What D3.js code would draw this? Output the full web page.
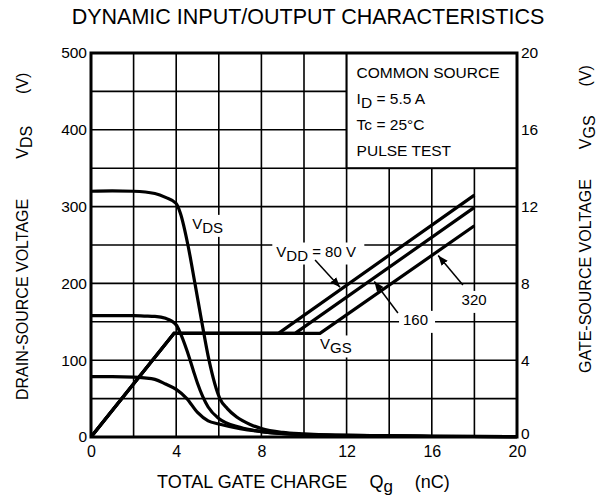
<!DOCTYPE html>
<html>
<head>
<meta charset="utf-8">
<script src="https://cdn.jsdelivr.net/npm/d3@7"></script>
<style>
    body { margin: 0; background: #fff; }
    text { font-family: "Liberation Sans", Arial, sans-serif; fill: #000; }
    .myaxis path, .myaxis line { display: none; }
    .myaxis text { font-size: 15.5px; }
</style>
</head>
<body>
<div id="gate_plot"></div>
<script>
// tick labels
var qTicks = [0, 4, 8, 12, 16, 20];
var vdsTicks = [0, 100, 200, 300, 400, 500];
var vgsTicks = [0, 4, 8, 12, 16, 20];

// V_DS curves (nC, V)
var vds320Q = [0, 1, 2, 3, 3.5, 4, 4.2, 4.55, 4.88, 5.2, 5.54, 6.05, 6.4, 6.84, 7.5, 8, 9, 10, 12, 16, 20];
var vds320V = [320, 320.5, 320, 317, 312, 304, 291, 250, 200, 150, 100, 50, 37, 26, 16, 11, 6, 4, 2, 1, 0.5];
var vds160Q = [0, 1, 2, 2.5, 3, 3.5, 4, 4.2, 4.5, 4.8, 5, 5.5, 6, 7, 8, 10, 12, 16, 20];
var vds160V = [158, 158, 158, 157.5, 157, 154.5, 146, 135, 113, 87, 70, 39, 24, 12.6, 7, 3, 2, 1, 0.5];
var vds80Q = [0, 1, 2, 2.5, 3, 3.5, 4, 4.5, 5, 5.5, 6, 7, 8, 10, 12, 16, 20];
var vds80V = [78.5, 78.5, 78, 77, 75, 69, 62, 50, 32, 21, 17, 11, 7, 3, 2, 1, 0.5];

// V_GS curves (nC, V)
var vgs80Q = [0, 3.9, 8.8, 18];
var vgs80V = [0, 5.4, 5.4, 12.6];
var vgs160Q = [0, 3.9, 9.58, 18];
var vgs160V = [0, 5.4, 5.4, 11.96];
var vgs320Q = [0, 3.9, 10.75, 18];
var vgs320V = [0, 5.4, 5.4, 11.0];

function pairs(qs, vs) {
    return qs.map(function (q, i) { return [q, vs[i]]; });
}

// set the dimensions and margins of the graph
var margin = { top: 53, right: 87, bottom: 60, left: 91 },
    width = 604 - margin.left - margin.right,
    height = 497 - margin.top - margin.bottom;

var root = d3.select("#gate_plot")
    .append("svg")
    .attr("width", 604)
    .attr("height", 497);

var svg = root.append("g")
    .attr("transform", "translate(" + margin.left + "," + margin.top + ")");

var x = d3.scaleLinear().domain([0, 20]).range([0, width]);
var y = d3.scaleLinear().domain([0, 500]).range([height, 0]);
var y2 = d3.scaleLinear().domain([0, 20]).range([height, 0]);

// grid
svg.append("g")
    .selectAll("line")
    .data(d3.range(2, 20, 2))
    .enter()
    .append("line")
    .attr("x1", function (d) { return x(d); })
    .attr("x2", function (d) { return x(d); })
    .attr("y1", 0)
    .attr("y2", height)
    .attr("stroke", "#000")
    .attr("stroke-width", 1.6);
svg.append("g")
    .selectAll("line")
    .data(d3.range(50, 500, 50))
    .enter()
    .append("line")
    .attr("x1", 0)
    .attr("x2", width)
    .attr("y1", function (d) { return y(d); })
    .attr("y2", function (d) { return y(d); })
    .attr("stroke", "#000")
    .attr("stroke-width", 1.6);

// legend box
svg.append("rect")
    .attr("x", x(12))
    .attr("y", y(500))
    .attr("width", x(20) - x(12))
    .attr("height", y(350) - y(500))
    .attr("fill", "#fff")
    .attr("stroke", "#000")
    .attr("stroke-width", 2);

var legendLines = ["COMMON SOURCE", "I|D| = 5.5 A", "Tc = 25°C", "PULSE TEST"];
legendLines.forEach(function (s, i) {
    var parts = s.split("|");
    var t = svg.append("text")
        .attr("x", x(12) + 10)
        .attr("y", 24.5 + i * 26)
        .style("font-size", "15.5px");
    t.append("tspan").text(parts[0]);
    if (parts.length > 1) {
        t.append("tspan").attr("dy", 4).text(parts[1]);
        t.append("tspan").attr("dy", -4).text(parts[2]);
    }
});

// white patches behind labels, then labels
function label(qx, vy, main, sub, rest, w) {
    svg.append("rect")
        .attr("x", x(qx) - 4)
        .attr("y", y(vy) - 14)
        .attr("width", w)
        .attr("height", 22)
        .attr("fill", "#fff");
    var t = svg.append("text")
        .attr("x", x(qx))
        .attr("y", y(vy))
        .style("font-size", "15px");
    t.append("tspan").text(main);
    if (sub) {
        t.append("tspan").attr("dy", 4).text(sub);
        t.append("tspan").attr("dy", -4).text(rest);
    }
}
label(4.75, 271, "V", "DS", "", 40);
label(8.7, 235, "V", "DD", " = 80 V", 92);
label(14.65, 146, "160", null, null, 36);
label(17.4, 172, "320", null, null, 35);
label(10.75, 114, "V", "GS", "", 40);

// arrows
var defs = root.append("defs");
defs.append("marker")
    .attr("id", "arrow")
    .attr("viewBox", "0 0 10 10")
    .attr("refX", 10)
    .attr("refY", 5)
    .attr("markerWidth", 10)
    .attr("markerHeight", 10)
    .attr("markerUnits", "userSpaceOnUse")
    .attr("orient", "auto")
    .append("path")
    .attr("d", "M0,1 L10,5 L0,9 Z")
    .attr("fill", "#000");

var arrows = [
    [10.52, 9.22, 11.69, 7.8],
    [14.41, 6.46, 13.3, 8.1],
    [17.46, 7.92, 16.3, 9.45]
];
arrows.forEach(function (a) {
    svg.append("line")
        .attr("x1", x(a[0])).attr("y1", y2(a[1]))
        .attr("x2", x(a[2])).attr("y2", y2(a[3]))
        .attr("stroke", "#000")
        .attr("stroke-width", 1.5)
        .attr("marker-end", "url(#arrow)");
});

// curves
var vdsLine = d3.line()
    .x(function (d) { return x(d[0]); })
    .y(function (d) { return y(d[1]); })
    .curve(d3.curveMonotoneX);
var vgsLine = d3.line()
    .x(function (d) { return x(d[0]); })
    .y(function (d) { return y2(d[1]); });

[pairs(vds320Q, vds320V), pairs(vds160Q, vds160V), pairs(vds80Q, vds80V)].forEach(function (p) {
    svg.append("path")
        .datum(p)
        .attr("d", vdsLine)
        .attr("fill", "none")
        .attr("stroke", "#000")
        .attr("stroke-width", 3.2);
});
[pairs(vgs80Q, vgs80V), pairs(vgs160Q, vgs160V), pairs(vgs320Q, vgs320V)].forEach(function (p) {
    svg.append("path")
        .datum(p)
        .attr("d", vgsLine)
        .attr("fill", "none")
        .attr("stroke", "#000")
        .attr("stroke-width", 3.2)
        .attr("stroke-linejoin", "miter");
});

// frame
svg.append("rect")
    .attr("x", 0).attr("y", 0)
    .attr("width", width).attr("height", height)
    .attr("fill", "none")
    .attr("stroke", "#000")
    .attr("stroke-width", 3);

// axes
svg.append("g")
    .attr("class", "myaxis")
    .call(d3.axisLeft(y).tickValues(vdsTicks).tickSize(0).tickPadding(4));
svg.append("g")
    .attr("class", "myaxis")
    .attr("transform", "translate(" + width + ",0)")
    .call(d3.axisRight(y2).tickValues(vgsTicks).tickSize(0).tickPadding(4))
    .selectAll(".tick text")
    .attr("dy", function (d) { return d === 0 ? "0.1em" : "0.32em"; });
svg.append("g")
    .attr("class", "myaxis")
    .attr("transform", "translate(0," + height + ")")
    .call(d3.axisBottom(x).tickValues(qTicks).tickSize(0).tickPadding(9))
    .selectAll("text").style("font-size", "16px");

// title
root.append("text")
    .attr("x", 308)
    .attr("y", 23.5)
    .attr("text-anchor", "middle")
    .style("font-size", "21.5px")
    .text("DYNAMIC INPUT/OUTPUT CHARACTERISTICS");

// X axis label
var xl = root.append("text")
    .attr("x", 157)
    .attr("y", 488)
    .style("font-size", "18px");
xl.append("tspan").text("TOTAL GATE CHARGE");
xl.append("tspan").attr("dx", 22).text("Q");
xl.append("tspan").attr("dy", 3.5).style("font-size", "17px").text("g");
xl.append("tspan").attr("dy", -3.5).attr("dx", 22).text("(nC)");

// Y axis labels
var yl = root.append("text")
    .attr("transform", "translate(28,400) rotate(-90)")
    .style("font-size", "16px");
yl.append("tspan").text("DRAIN-SOURCE VOLTAGE");
yl.append("tspan").attr("dx", 40).text("V");
yl.append("tspan").attr("dy", 4).text("DS");
yl.append("tspan").attr("dy", -4).attr("dx", 32).text("(V)");

var yr = root.append("text")
    .attr("transform", "translate(591,373) rotate(-90)")
    .style("font-size", "16px");
yr.append("tspan").text("GATE-SOURCE VOLTAGE");
yr.append("tspan").attr("dx", 30).text("V");
yr.append("tspan").attr("dy", 4).text("GS");
yr.append("tspan").attr("dy", -4).attr("dx", 29).text("(V)");
</script>
</body>
</html>
